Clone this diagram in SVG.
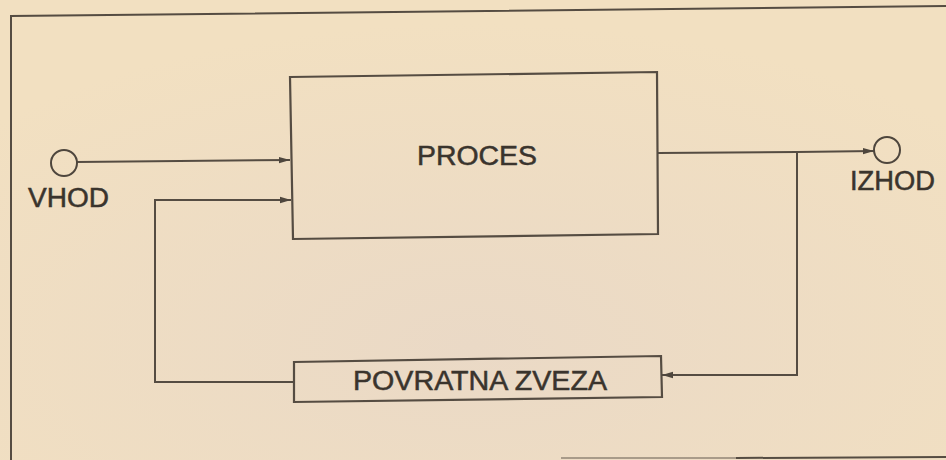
<svg xmlns="http://www.w3.org/2000/svg" width="946" height="460" viewBox="0 0 946 460">
  <defs>
    <radialGradient id="bg" cx="0.5" cy="0.75" r="0.7">
      <stop offset="0" stop-color="#ead9c6"/>
      <stop offset="1" stop-color="#f2e0c1"/>
    </radialGradient>
    <marker id="arr" markerUnits="userSpaceOnUse" markerWidth="12" markerHeight="8" refX="11" refY="4" orient="auto">
      <path d="M0,0.8 L11,4 L0,7.2 z" fill="#4e463d"/>
    </marker>
    <style>
      .ln { fill: none; stroke: #554c42; stroke-width: 2; }
      .box { fill: none; stroke: #554c42; stroke-width: 2.2; }
      .lbl { font-family: "Liberation Sans", Arial, sans-serif; font-size: 27px; fill: #3a342d; stroke: #3a342d; stroke-width: 0.5; }
      .term { fill: none; stroke: #4e463d; stroke-width: 2; }
    </style>
  </defs>
  <rect x="0" y="0" width="946" height="460" fill="url(#bg)"/>

  <g id="frame">
    <path class="ln" d="M11,460 L11,16 L946,6"/>
    <path class="ln" d="M561,458 L736,458" stroke-opacity="0.45"/>
    <path class="ln" d="M736,458 L946,457" stroke-width="2.4"/>
  </g>

  <g id="connectors">
    <path class="ln" d="M77,162 L290,160" marker-end="url(#arr)"/>
    <path class="ln" d="M294,382 L155,382 L155,200 L291,200" marker-end="url(#arr)"/>
    <path class="ln" d="M658,153 L797,152 L874,151" marker-end="url(#arr)"/>
    <path class="ln" d="M797,152 L797,375 L662,375" marker-end="url(#arr)"/>
  </g>

  <g id="vhod">
    <circle class="term" cx="64" cy="163" r="13"/>
    <text class="lbl" x="28" y="207" textLength="81" lengthAdjust="spacingAndGlyphs">VHOD</text>
  </g>

  <g id="izhod">
    <circle class="term" cx="887" cy="150" r="13"/>
    <text class="lbl" x="850" y="190" textLength="85" lengthAdjust="spacingAndGlyphs">IZHOD</text>
  </g>

  <g id="proces">
    <path class="box" d="M290,77 L657,72 L658,234 L293,239 Z"/>
    <text class="lbl" x="417" y="165" textLength="120" lengthAdjust="spacingAndGlyphs">PROCES</text>
  </g>

  <g id="povratna-zveza">
    <path class="box" d="M294,362 L661,356 L662,397 L294,402 Z"/>
    <text class="lbl" x="353" y="390" textLength="254" lengthAdjust="spacingAndGlyphs">POVRATNA ZVEZA</text>
  </g>
</svg>
